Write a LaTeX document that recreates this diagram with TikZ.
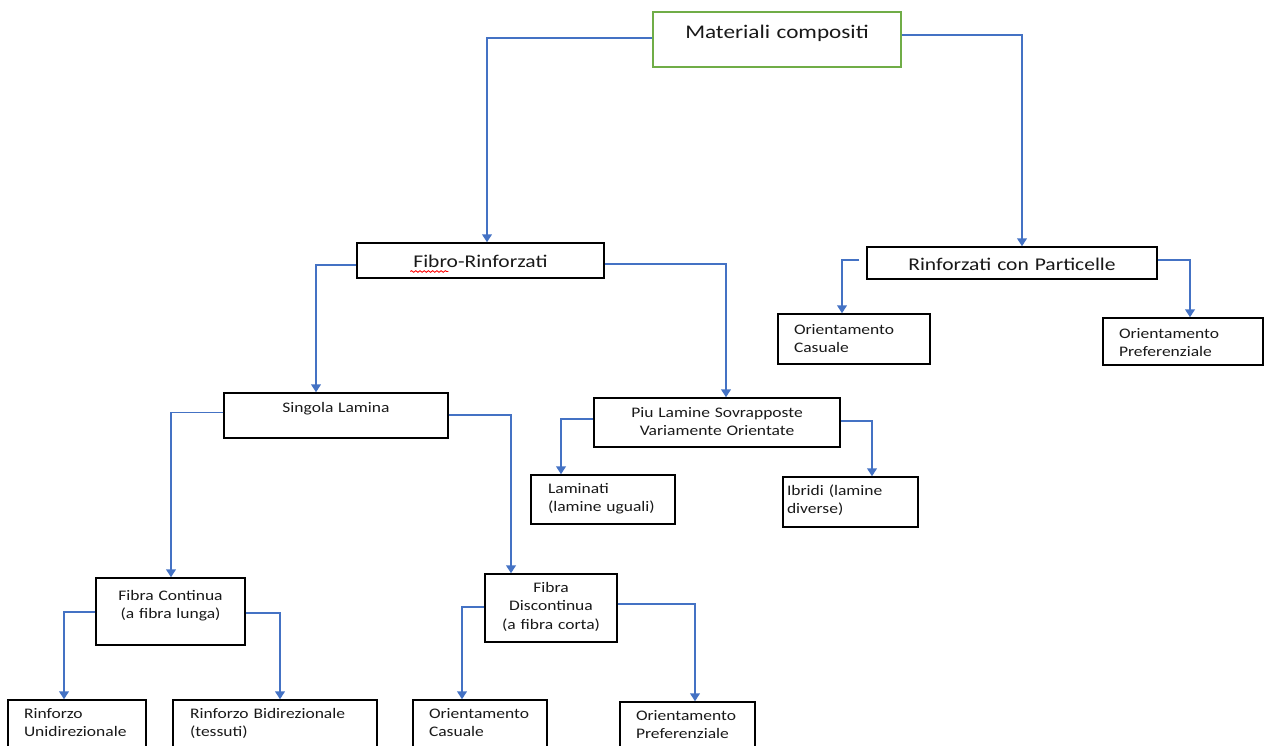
\documentclass[tikz,border=0pt]{standalone}
\usepackage{fontspec}
\setmainfont{Carlito}[FakeStretch=1.2]
\usetikzlibrary{arrows.meta,decorations.pathmorphing}
\definecolor{blu}{HTML}{4472C4}
\definecolor{verde}{HTML}{70AD47}
\newcommand{\fontgrande}{\fontsize{11}{13.4}\selectfont}
\newcommand{\fontmedio}{\fontsize{10.2}{12.4}\selectfont}
\newcommand{\fontpiccolo}{\fontsize{8.3}{10.3}\selectfont}

\begin{document}
\begin{tikzpicture}[
            x=0.02cm, y=-0.02cm,
            casella/.style = {rectangle, draw=black, line width=0.85pt, inner ysep=0pt, inner xsep=0.1cm, align=center, text=black!90, font=\fontpiccolo},
            sinistra/.style = {align=left, inner xsep=0.32cm},
            freccia/.style = {draw=blu, line width=1pt, -{Triangle[width=5.5pt,length=4.5pt]}},
            sottolineatura/.style = {draw=red, line width=0.5pt, decorate, decoration={snake, amplitude=0.45pt, segment length=2.4pt}}
        ]
        \useasboundingbox (0,0) rectangle (1264,746);

        % Nodo principale
        \node [casella, draw=verde, font=\fontgrande, text width=4.76cm, text height=0.53cm, text depth=0.57cm] (radice) at (777,39.5) {Materiali compositi};

        % Primo livello
        \node [casella, font=\fontmedio, text width=4.74cm, text height=0.49cm, text depth=0.21cm] (fibro) at (480.5,260.5) {Fibro-Rinforzati};
        \node [casella, font=\fontmedio, text width=5.60cm, text height=0.47cm, text depth=0.17cm] (particelle) at (1012,263) {Rinforzati con Particelle};

        % Rinforzati con particelle
        \node [casella, sinistra, text width=2.40cm, text height=0.40cm, text depth=0.60cm] (casualeP) at (854,339) {Orientamento\\Casuale};
        \node [casella, sinistra, text width=2.56cm, text height=0.41cm, text depth=0.53cm] (preferenzialeP) at (1183,341.5) {Orientamento\\Preferenziale};

        % Fibro-rinforzati
        \node [casella, text width=4.28cm, text height=0.38cm, text depth=0.52cm] (singola) at (336,415.5) {Singola Lamina};
        \node [casella, text width=4.72cm, text height=0.38cm, text depth=0.60cm] (piu) at (717,422.5) {Piu Lamine Sovrapposte\\Variamente Orientate};

        % Piu lamine
        \node [casella, sinistra, inner xsep=0.34cm, text width=2.20cm, text height=0.36cm, text depth=0.62cm] (laminati) at (603,499.5) {Laminati\\(lamine uguali)};
        \node [casella, sinistra, inner xsep=0.08cm, text width=2.54cm, text height=0.36cm, text depth=0.64cm] (ibridi) at (850.5,502) {Ibridi (lamine\\diverse)};

        % Singola lamina
        \node [casella, text width=2.78cm, text height=0.44cm, text depth=0.90cm] (continua) at (170.5,611.5) {Fibra Continua\\(a fibra lunga)};
        \node [casella, text width=2.44cm, text height=0.36cm, text depth=1.00cm, font=\fontsize{8.3}{10.6}\selectfont] (discontinua) at (551,608) {Fibra\\Discontinua\\(a fibra corta)};

        % Ultimo livello
        \node [casella, sinistra, text width=2.12cm, text height=0.36cm, text depth=0.84cm] (unidirezionale) at (77,730) {Rinforzo\\Unidirezionale};
        \node [casella, sinistra, inner xsep=0.34cm, text width=3.40cm, text height=0.36cm, text depth=0.84cm] (bidirezionale) at (275,730) {Rinforzo Bidirezionale\\(tessuti)};
        \node [casella, sinistra, text width=2.04cm, text height=0.36cm, text depth=0.84cm] (casualeB) at (480,730) {Orientamento\\Casuale};
        \node [casella, sinistra, text width=2.06cm, text height=0.36cm, text depth=0.84cm] (preferenzialeB) at (687.5,732) {Orientamento\\Preferenziale};

        % Sottolineatura del correttore
        \draw [sottolineatura] ([xshift=1.08cm,yshift=-0.08cm]fibro.base west) -- ++(38,0);

        % Frecce
        \draw [freccia] ([yshift=0.03cm]radice.west) -| ([xshift=0.13cm]fibro.north);
        \draw [freccia] ([yshift=0.09cm]radice.east) -| ([xshift=0.20cm]particelle.north);
        \draw [freccia] ([yshift=-0.09cm]fibro.west) -| ([xshift=-0.40cm]singola.north);
        \draw [freccia] ([yshift=-0.07cm]fibro.east) -| ([xshift=0.18cm]piu.north);
        \draw [freccia] ([xshift=-0.14cm,yshift=0.06cm]particelle.west) -| ([xshift=-0.24cm]casualeP.north);
        \draw [freccia] ([yshift=0.06cm]particelle.east) -| ([xshift=0.14cm]preferenzialeP.north);
        \draw [freccia] ([yshift=0.06cm]singola.west) -| ([xshift=0.01cm]continua.north);
        \draw [freccia] ([yshift=0.01cm]singola.east) -| ([xshift=-0.80cm]discontinua.north);
        \draw [freccia] ([yshift=0.07cm]piu.west) -| ([xshift=-0.84cm]laminati.north);
        \draw [freccia] ([yshift=0.03cm]piu.east) -| ([xshift=0.43cm]ibridi.north);
        \draw [freccia] ([yshift=-0.01cm]continua.west) -| ([xshift=-0.26cm]unidirezionale.north);
        \draw [freccia] ([yshift=-0.03cm]continua.east) -| ([xshift=0.10cm]bidirezionale.north);
        \draw [freccia] ([yshift=0.02cm]discontinua.west) -| ([xshift=-0.36cm]casualeB.north);
        \draw [freccia] ([yshift=0.08cm]discontinua.east) -| ([xshift=0.15cm]preferenzialeB.north);

    \end{tikzpicture}
\end{document}
